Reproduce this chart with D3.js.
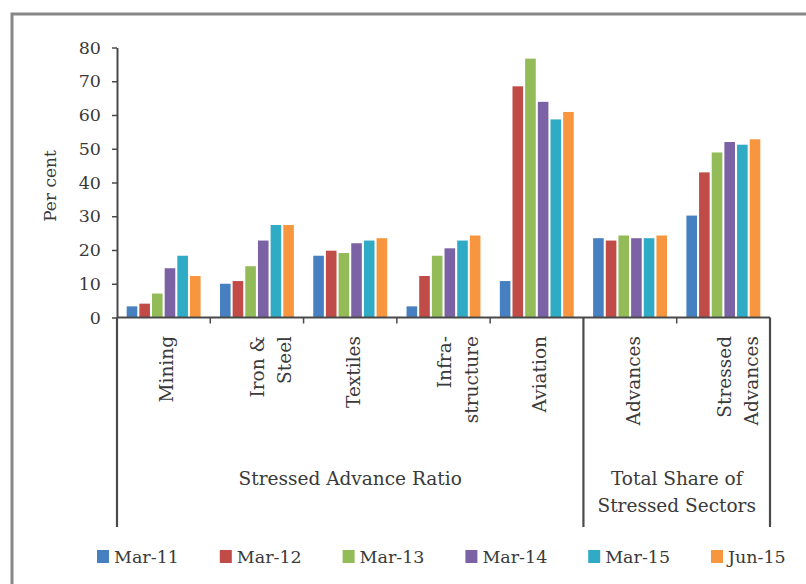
<!DOCTYPE html>
<html>
<head>
<meta charset="utf-8">
<script src="https://cdn.jsdelivr.net/npm/d3@7"></script>
<style>
  html, body { margin: 0; padding: 0; background: #fff; }
  svg { display: block; }
  text { font-family: "DejaVu Serif", "Liberation Serif", serif; fill: #3a3a3a; }
</style>
</head>
<body>
<svg id="chart" width="806" height="584"></svg>
<script>
// Sector categories (labels may wrap over two lines)
const categories = ["Mining", "Iron & Steel", "Textiles", "Infrastructure", "Aviation", "Advances", "Stressed Advances"];
const categoryLines = [["Mining"], ["Iron &", "Steel"], ["Textiles"], ["Infra-", "structure"], ["Aviation"], ["Advances"], ["Stressed", "Advances"]];
const series = ["Mar-11", "Mar-12", "Mar-13", "Mar-14", "Mar-15", "Jun-15"];
const colors = ["#4680c0", "#c04b47", "#93bc59", "#7b62a5", "#2fabc6", "#f7963f"];

// Values per series, one per category (per cent)
const mar11 = [3.3, 10.0, 18.3, 3.3, 10.8, 23.5, 30.2];
const mar12 = [4.1, 10.8, 19.8, 12.3, 68.5, 22.8, 43.0];
const mar13 = [7.1, 15.2, 19.1, 18.3, 76.7, 24.3, 48.9];
const mar14 = [14.6, 22.8, 22.0, 20.5, 63.9, 23.5, 52.0];
const mar15 = [18.3, 27.4, 22.8, 22.8, 58.7, 23.5, 51.2];
const jun15 = [12.3, 27.4, 23.5, 24.3, 60.9, 24.3, 52.8];
const seriesValues = [mar11, mar12, mar13, mar14, mar15, jun15];

const yTicks = [0, 10, 20, 30, 40, 50, 60, 70, 80];
const groupLabels = [
  { lines: ["Stressed Advance Ratio"], from: 0, to: 5 },
  { lines: ["Total Share of", "Stressed Sectors"], from: 5, to: 7 }
];

const svg = d3.select("#chart");
const axisColor = "#4a4a4a";

// Outer frame (left and top edges)
svg.append("path")
  .attr("d", "M12,584 L12,14 L806,14")
  .attr("fill", "none")
  .attr("stroke", "#878787")
  .attr("stroke-width", 3);

const x0 = d3.scaleBand().domain(categories).range([117, 770]).padding(0);
const x1 = d3.scaleBand().domain(series).range([0, x0.bandwidth()])
  .paddingInner(0.163).paddingOuter(0.765);
const y = d3.scaleLinear().domain([0, 80]).range([317.5, 47.5]);

// Bars
const groups = svg.append("g").selectAll("g")
  .data(categories)
  .join("g")
  .attr("transform", d => `translate(${x0(d)},0)`);

groups.selectAll("rect")
  .data((c, ci) => series.map((s, si) => ({ s, si, v: seriesValues[si][ci] })))
  .join("rect")
  .attr("x", d => x1(d.s))
  .attr("width", x1.bandwidth())
  .attr("y", d => y(d.v))
  .attr("height", d => y(0) - y(d.v))
  .attr("fill", d => colors[d.si]);

// Y axis
const yAxis = svg.append("g")
  .attr("transform", "translate(117,0)")
  .call(d3.axisLeft(y).tickValues(yTicks).tickSize(5).tickPadding(11).tickSizeOuter(0));
yAxis.select(".domain").attr("stroke", axisColor).attr("stroke-width", 2);
yAxis.selectAll(".tick line").attr("stroke", axisColor).attr("stroke-width", 1.5);
yAxis.selectAll(".tick text")
  .style("font-family", "'DejaVu Serif', serif")
  .style("font-size", "17.5px")
  .attr("fill", "#444");

svg.append("text")
  .attr("transform", "translate(50,186) rotate(-90)")
  .attr("text-anchor", "middle")
  .attr("dy", "0.35em")
  .style("font-size", "17px")
  .text("Per cent");

// X axis baseline
svg.append("line")
  .attr("x1", 117).attr("x2", 770)
  .attr("y1", y(0)).attr("y2", y(0))
  .attr("stroke", axisColor).attr("stroke-width", 2);

// Short ticks between categories, long dividers between category groups
const boundaries = d3.range(categories.length + 1).map(i => 117 + i * x0.step());
const longIdx = new Set([0, 5, 7]);
svg.append("g").selectAll("line")
  .data(boundaries)
  .join("line")
  .attr("x1", d => d).attr("x2", d => d)
  .attr("y1", y(0))
  .attr("y2", (d, i) => longIdx.has(i) ? 527 : y(0) + 6)
  .attr("stroke", axisColor)
  .attr("stroke-width", (d, i) => longIdx.has(i) ? 2.2 : 1.5);

// Rotated category labels
categories.forEach((c, ci) => {
  const cx = x0(c) + x0.bandwidth() / 2;
  const lines = categoryLines[ci];
  lines.forEach((ln, li) => {
    const px = lines.length === 1 ? cx + 3 : cx + 1 + li * 27;
    svg.append("text")
      .attr("transform", `translate(${px},336) rotate(-90)`)
      .attr("text-anchor", "end")
      .attr("dy", "0.35em")
      .style("font-size", "18.5px")
      .text(ln);
  });
});

// Group labels under the category labels
groupLabels.forEach(g => {
  const cx = (boundaries[g.from] + boundaries[g.to]) / 2;
  g.lines.forEach((ln, li) => {
    svg.append("text")
      .attr("x", cx)
      .attr("y", 485 + li * 27)
      .attr("text-anchor", "middle")
      .style("font-size", "18.5px")
      .text(ln);
  });
});

// Legend
const legend = svg.append("g").selectAll("g")
  .data(series)
  .join("g")
  .attr("transform", (d, i) => `translate(${97 + i * 122.8},550)`);
legend.append("rect")
  .attr("width", 12).attr("height", 13)
  .attr("fill", (d, i) => colors[i]);
legend.append("text")
  .attr("x", 17).attr("y", 12.5)
  .style("font-size", "17.5px")
  .text(d => d);
</script>
</body>
</html>
